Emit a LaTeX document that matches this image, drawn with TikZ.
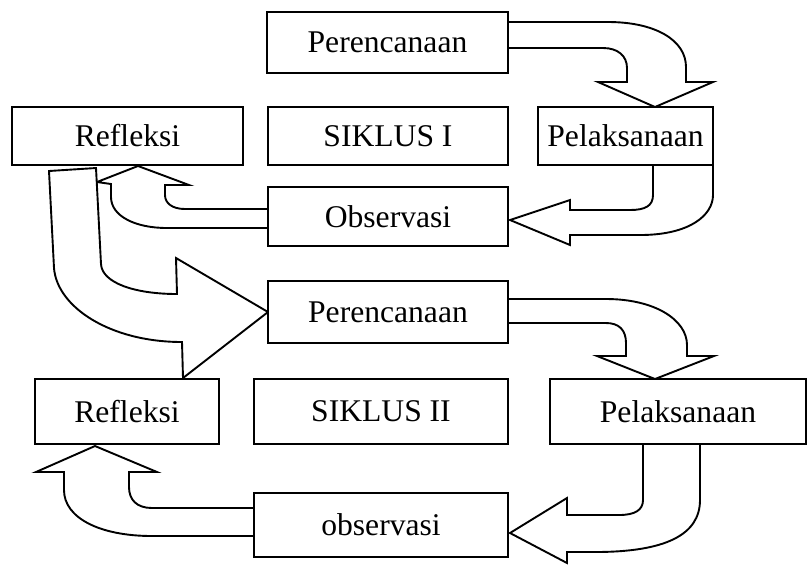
\documentclass[tikz,border=0pt]{standalone}
\usepackage{fontspec}
\setmainfont{Liberation Serif}

\begin{document}
\begin{tikzpicture}[x=0.5pt,y=-0.5pt,
  box/.style={draw, fill=white, line width=0.95pt, inner sep=0pt,
    font=\fontsize{15.8}{19}\selectfont},
  blockarr/.style={draw, fill=white, line width=0.95pt, line join=miter}]

  \useasboundingbox (0,0) rectangle (808,564);

  % Siklus I: curved block arrows
  \path[blockarr] (508,22) -- (608,22) .. controls (655,22) and (686,40) .. (686,67)
    -- (686,82) -- (713,82) -- (655,107) -- (598,82) -- (627,82) -- (627,68)
    .. controls (627,56) and (618,48) .. (603,48) -- (508,48) -- cycle;
  \path[blockarr] (653,165) -- (653,195) .. controls (653,206) and (645,210) .. (630,210)
    -- (570,210) -- (570,200) -- (510,220) -- (570,245) -- (570,235) -- (640,235)
    .. controls (690,235) and (713,215) .. (713,195) -- (713,165) -- cycle;
  \path[blockarr] (268,209) -- (185,209) .. controls (172,209) and (165,203) .. (165,195)
    -- (165,185) -- (189,185) -- (138,166) -- (97,182) -- (111,184) -- (111,197)
    .. controls (111,216) and (135,228) .. (167,228) -- (268,228) -- cycle;

  % Refleksi I ke Perencanaan II
  \path[blockarr] (49,171) -- (96,168) -- (101,264) .. controls (102,283) and (135,294) .. (177,294)
    -- (176,258) -- (268,312) -- (183,378) -- (182,342)
    .. controls (110,342) and (57,307) .. (54,268) -- cycle;

  % Siklus II: curved block arrows
  \path[blockarr] (508,299) -- (606,299) .. controls (655,299) and (687,320) .. (687,345)
    -- (687,356) -- (714,356) -- (655,379) -- (597,356) -- (626,356) -- (626,343)
    .. controls (626,330) and (619,323) .. (606,323) -- (508,323) -- cycle;
  \path[blockarr] (643,444) -- (643,500) .. controls (643,510) and (635,515) .. (619,515)
    -- (567,515) -- (567,498) -- (510,533) -- (567,563) -- (567,552) -- (595,552)
    .. controls (665,552) and (700,535) .. (700,500) -- (700,444) -- cycle;
  \path[blockarr] (254,508) -- (152,508) .. controls (137,508) and (129,500) .. (129,487)
    -- (129,472) -- (157,472) -- (95,446) -- (36,472) -- (64,472) -- (64,490)
    .. controls (64,518) and (100,536) .. (152,536) -- (254,536) -- cycle;

  % Kotak
  \node[box, minimum width=120.5pt, minimum height=30.5pt] (per1) at (387.5,42.5) {Perencanaan};
  \node[box, minimum width=115.5pt, minimum height=29pt] (ref1) at (127.5,136) {Refleksi};
  \node[box, minimum width=120pt, minimum height=29pt] (sik1) at (388,136) {SIKLUS I};
  \node[box, minimum width=87.5pt, minimum height=29pt] (pel1) at (625.5,136) {Pelaksanaan};
  \node[box, minimum width=120pt, minimum height=29.5pt] (obs1) at (388,216.5) {Observasi};

  \node[box, minimum width=120pt, minimum height=31pt] (per2) at (388,312) {Perencanaan};
  \node[box, minimum width=92pt, minimum height=32.5pt] (ref2) at (127,411.5) {Refleksi};
  \node[box, minimum width=127pt, minimum height=32.5pt] (sik2) at (381,411.5) {SIKLUS II};
  \node[box, minimum width=128pt, minimum height=32.5pt] (pel2) at (678,411.5) {Pelaksanaan};
  \node[box, minimum width=127pt, minimum height=32pt] (obs2) at (381,525) {observasi};

\end{tikzpicture}
\end{document}
